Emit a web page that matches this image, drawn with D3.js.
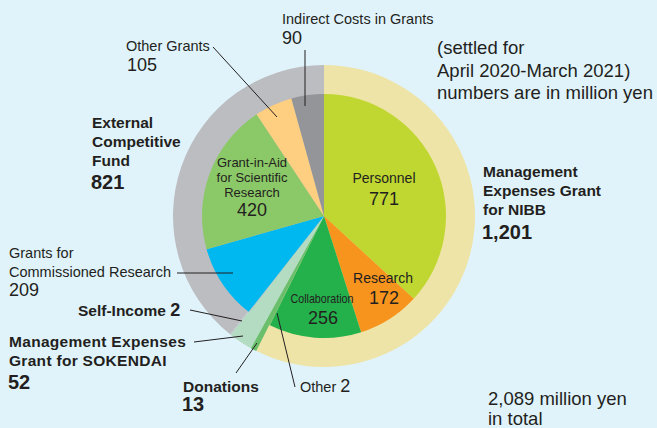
<!DOCTYPE html>
<html>
<head>
<meta charset="utf-8">
<script src="https://cdn.jsdelivr.net/npm/d3@7"></script>
<style>
  body { margin: 0; background: #e0f3fb; }
  svg { display: block; font-family: "Liberation Sans", Arial, sans-serif; }
  text { fill: #231f20; }
  .b { font-weight: bold; }
</style>
</head>
<body>
<div id="chart-area"></div>
<script>
// income sources (outer ring), million yen
var sourceNames = ["Management Expenses Grant for NIBB", "Donations", "Management Expenses Grant for SOKENDAI", "Self-Income", "External Competitive Fund"];
var sourceValues = [1201, 13, 52, 2, 821];

// breakdown (inner pie), million yen
var itemNames = ["Personnel", "Research", "Collaboration", "Other", "Donations", "SOKENDAI", "Self-Income",
  "Grants for Commissioned Research", "Grant-in-Aid for Scientific Research", "Other Grants", "Indirect Costs in Grants"];
var itemValues = [771, 172, 256, 2, 13, 52, 2, 209, 420, 105, 90];

var totalLabel = "2,089";

var W = 657, H = 428;
var cx = 324, cy = 216;
var R = 151, r = 122;

var svg = d3.select("#chart-area")
  .append("svg")
  .attr("width", W)
  .attr("height", H);

var sourceColor = d3.scaleOrdinal()
  .domain(sourceNames)
  .range(["#efe4a7", "#6bbf6c", "#b4dcc2", "#bcbdc0", "#bcbdc0"]);

var itemColor = d3.scaleOrdinal()
  .domain(itemNames)
  .range(["#c0d731", "#f7941e", "#24b14c", "#3cb553", "#6bbf6c", "#b4dcc2", "#bcbdc0",
    "#00b8f0", "#8bc867", "#fecf80", "#939598"]);

var pie = d3.pie().sort(null);

var g = svg.append("g")
  .attr("transform", "translate(" + cx + "," + cy + ")");

// outer ring (drawn as a full disc, inner pie sits on top)
var outerArc = d3.arc().innerRadius(0).outerRadius(R);
g.selectAll("path.outer")
  .data(pie(sourceValues))
  .enter()
  .append("path")
  .attr("class", "outer")
  .attr("d", outerArc)
  .attr("fill", (d, i) => sourceColor(sourceNames[i]));

// inner pie; donations and SOKENDAI run out to the rim
var innerArc = d3.arc().innerRadius(0)
  .outerRadius((d, i) => (itemNames[i] == "Donations" || itemNames[i] == "SOKENDAI") ? R : r);
g.selectAll("path.inner")
  .data(pie(itemValues))
  .enter()
  .append("path")
  .attr("class", "inner")
  .attr("d", (d, i) => innerArc(d, i))
  .attr("fill", (d, i) => itemColor(itemNames[i]));

// leader lines
var leaders = [
  [305, 50, 305, 106],
  [213, 47, 277, 117],
  [177, 273, 233, 273],
  [190, 310, 242, 321],
  [194, 342, 243, 336],
  [236, 373, 257, 343],
  [295, 387, 277, 313]
];
svg.selectAll("line.leader")
  .data(leaders)
  .enter()
  .append("line")
  .attr("class", "leader")
  .attr("x1", d => d[0]).attr("y1", d => d[1])
  .attr("x2", d => d[2]).attr("y2", d => d[3])
  .attr("stroke", "#231f20")
  .attr("stroke-width", 1);

function label(x, y, str, size, cls, anchor) {
  return svg.append("text")
    .attr("x", x).attr("y", y)
    .attr("font-size", size + "px")
    .attr("class", cls || null)
    .attr("text-anchor", anchor || "start")
    .text(str);
}

// inner slice labels
label(384, 183, itemNames[0], 14, null, "middle");
label(384, 205, itemValues[0], 18, null, "middle");
label(383, 283, itemNames[1], 14, null, "middle");
label(384, 304, itemValues[1], 18, null, "middle");
label(322, 303, itemNames[2], 13, null, "middle")
  .attr("textLength", 63).attr("lengthAdjust", "spacingAndGlyphs");
label(323, 324, itemValues[2], 18, null, "middle");
label(252, 167, "Grant-in-Aid", 13, null, "middle");
label(252, 182, "for Scientific", 13, null, "middle");
label(252, 197, "Research", 13, null, "middle");
label(252, 216, itemValues[8], 18, null, "middle");

// outside labels
label(282, 24, itemNames[10], 14.5);
label(282, 44, itemValues[10], 18);
label(126, 51, itemNames[9], 14.5);
label(127, 71, itemValues[9], 18);
label(9, 258, "Grants for", 14.5);
label(9, 277, "Commissioned Research", 14.5);
label(9, 296, itemValues[7], 18);

label(92, 128, "External", 15.5, "b");
label(92, 147, "Competitive", 15.5, "b");
label(92, 166, "Fund", 15.5, "b");
label(91, 189, sourceValues[4], 20, "b");

var si = label(78, 316, "Self-Income ", 15.5, "b");
si.append("tspan").attr("font-size", "18px").text(sourceValues[3]);

label(9, 347, "Management Expenses", 15.5, "b").attr("letter-spacing", "0.3px");
label(9, 366, "Grant for SOKENDAI", 15.5, "b").attr("letter-spacing", "0.3px");
label(8, 389, sourceValues[2], 20, "b");

label(183, 392, "Donations", 15.5, "b");
label(182, 411, sourceValues[1], 20, "b");

var ot = label(300, 392, "Other ", 14.5);
ot.append("tspan").attr("font-size", "18px").text(itemValues[3]);

label(483, 177, "Management", 15.5, "b");
label(483, 196, "Expenses Grant", 15.5, "b");
label(483, 215, "for NIBB", 15.5, "b");
label(482, 239, "1,201", 20, "b");

label(437, 54, "(settled for", 18.5);
label(437, 77, "April 2020-March 2021)", 18.5);
label(437, 99, "numbers are in million yen", 18.5);

label(488, 405, totalLabel + " million yen", 18.5);
label(488, 425, "in total", 18.5);
</script>
</body>
</html>
